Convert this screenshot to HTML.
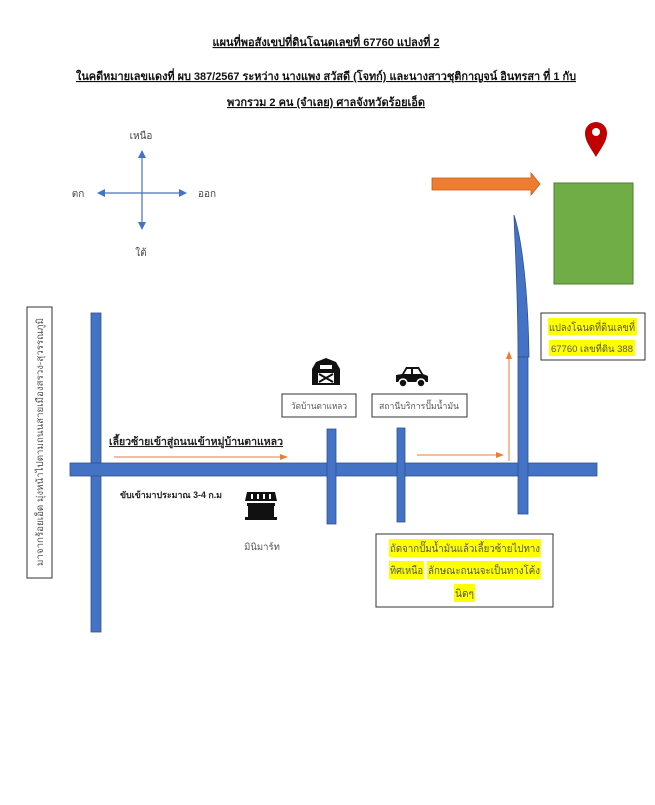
<!DOCTYPE html>
<html><head><meta charset="utf-8"><style>
body{margin:0;background:#fff;width:655px;height:800px;overflow:hidden}
svg text{font-family:"Liberation Sans","Noto Sans CJK SC",sans-serif}
</style></head><body>
<svg width="655" height="800" viewBox="0 0 655 800" xmlns="http://www.w3.org/2000/svg">
<defs>
<marker id="ab" markerWidth="8" markerHeight="8" refX="6" refY="4" orient="auto" markerUnits="userSpaceOnUse"><path d="M0,0 L8,4 L0,8 z" fill="#4472c4"/></marker>
<marker id="ao" markerWidth="8" markerHeight="8" refX="6" refY="4" orient="auto" markerUnits="userSpaceOnUse"><path d="M0,1 L8,4 L0,7 z" fill="#ed7d31"/></marker>
</defs>
<g style="font-family:'Liberation Serif','Noto Serif CJK SC',serif;font-weight:bold;font-size:11.2px;text-decoration:underline" fill="#111">
<text x="326" y="46" text-anchor="middle" textLength="227" lengthAdjust="spacingAndGlyphs">แผนที่พอสังเขปที่ดินโฉนดเลขที่ 67760 แปลงที่ 2</text>
<text x="326" y="80" text-anchor="middle" textLength="500" lengthAdjust="spacingAndGlyphs">ในคดีหมายเลขแดงที่ ผบ 387/2567 ระหว่าง นางแพง สวัสดี (โจทก์) และนางสาวชุติกาญจน์ อินทรสา ที่ 1 กับ</text>
<text x="326" y="106" text-anchor="middle" textLength="198" lengthAdjust="spacingAndGlyphs">พวกรวม 2 คน (จำเลย) ศาลจังหวัดร้อยเอ็ด</text>
</g>

<!-- compass -->
<line x1="142" y1="193" x2="142" y2="152" stroke="#4472c4" stroke-width="1.2" marker-end="url(#ab)"/>
<line x1="142" y1="193" x2="142" y2="228" stroke="#4472c4" stroke-width="1.2" marker-end="url(#ab)"/>
<line x1="142" y1="193" x2="99" y2="193" stroke="#4472c4" stroke-width="1.2" marker-end="url(#ab)"/>
<line x1="142" y1="193" x2="185" y2="193" stroke="#4472c4" stroke-width="1.2" marker-end="url(#ab)"/>
<g font-size="10" fill="#444">
<text x="141" y="139" text-anchor="middle">เหนือ</text>
<text x="78" y="197" text-anchor="middle">ตก</text>
<text x="207" y="197" text-anchor="middle">ออก</text>
<text x="141" y="256" text-anchor="middle">ใต้</text>
</g>

<!-- top right -->
<path d="M432,178 L531,178 L531,173 L540,184 L531,195 L531,190 L432,190 z" fill="#ed7d31" stroke="#c55a11" stroke-width="0.8"/>
<rect x="554" y="183" width="79" height="101" fill="#70ad47" stroke="#507e32" stroke-width="1"/>
<path d="M596,157 C590,147 585,141 585,133 A11,11 0 0 1 607,133 C607,141 602,147 596,157 z" fill="#c00000"/>
<circle cx="596" cy="132" r="4" fill="#fff"/>
<path d="M514,215 C522,240 528,290 529,357 L518,357 C518,290 515,250 514,215 z" fill="#4472c4" stroke="#2f528f" stroke-width="0.8"/>
<rect x="541" y="313" width="104" height="47" fill="#fff" stroke="#333" stroke-width="1"/>
<rect x="548" y="318" width="89" height="17" fill="#ffff00"/>
<rect x="549" y="340" width="86" height="16" fill="#ffff00"/>
<text x="592" y="331" text-anchor="middle" font-size="10.5" fill="#555" textLength="86" lengthAdjust="spacingAndGlyphs">แปลงโฉนดที่ดินเลขที่</text>
<text x="592" y="352" text-anchor="middle" font-size="9.5" fill="#555" textLength="82" lengthAdjust="spacingAndGlyphs">67760 เลขที่ดิน 388</text>

<!-- vertical label box -->
<rect x="27" y="307" width="25" height="271" fill="#fff" stroke="#333" stroke-width="1"/>
<text transform="translate(43,442) rotate(-90)" text-anchor="middle" font-size="9.5" fill="#555" textLength="248" lengthAdjust="spacingAndGlyphs">มาจากร้อยเอ็ด มุ่งหน้าไปตามถนนสายเมืองสรวง-สุวรรณภูมิ</text>

<!-- roads -->
<rect x="91" y="313" width="10" height="319" fill="#4472c4" stroke="#2f528f" stroke-width="0.8"/>
<rect x="70" y="463" width="527" height="13" fill="#4472c4" stroke="#2f528f" stroke-width="0.8"/>
<rect x="327" y="429" width="9" height="95" fill="#4472c4" stroke="#2f528f" stroke-width="0.8"/>
<rect x="397" y="428" width="8" height="94" fill="#4472c4" stroke="#2f528f" stroke-width="0.8"/>
<rect x="518" y="357" width="10" height="157" fill="#4472c4" stroke="#2f528f" stroke-width="0.8"/>

<!-- icons -->
<g transform="translate(326,373)">
<path d="M-14,12 L-14,-4 L-10,-11 L0,-15 L10,-11 L14,-4 L14,12 z" fill="#111"/>
<rect x="-6" y="-8" width="12" height="4" fill="#fff"/>
<rect x="-8" y="0" width="16" height="10" fill="#fff"/>
<path d="M-7,1 L7,9 M7,1 L-7,9" stroke="#111" stroke-width="2"/>
</g>
<g transform="translate(412,376)">
<path d="M-16,6 L-16,-1 L-10,-2 L-6,-9 L7,-9 L11,-2 L16,0 L16,6 z" fill="#111"/>
<path d="M-5,-7 L-1,-7 L-1,-2 L-8,-2 z M1,-7 L6,-7 L9,-2 L1,-2 z" fill="#fff"/>
<circle cx="-9" cy="7" r="4" fill="#111" stroke="#fff" stroke-width="1.5"/>
<circle cx="9" cy="7" r="4" fill="#111" stroke="#fff" stroke-width="1.5"/>
</g>
<g transform="translate(261,506)">
<path d="M-14,-14 L14,-14 L16,-5 L-16,-5 z" fill="#111"/>
<path d="M-9,-12 L-9,-7 M-3,-12 L-3,-7 M3,-12 L3,-7 M9,-12 L9,-7" stroke="#fff" stroke-width="2"/>
<rect x="-14" y="-3" width="28" height="3" fill="#111"/>
<rect x="-13" y="0" width="26" height="11" fill="#111"/>
<rect x="-16" y="11" width="32" height="3" fill="#111"/>
</g>

<!-- boxes -->
<rect x="282" y="394" width="74" height="23" fill="#fff" stroke="#333" stroke-width="1"/>
<text x="319" y="409" text-anchor="middle" font-size="9" fill="#555" textLength="56" lengthAdjust="spacingAndGlyphs">วัดบ้านตาแหลว</text>
<rect x="372" y="394" width="95" height="23" fill="#fff" stroke="#333" stroke-width="1"/>
<text x="419" y="409" text-anchor="middle" font-size="9" fill="#555" textLength="80" lengthAdjust="spacingAndGlyphs">สถานีบริการปั๊มน้ำมัน</text>

<text x="109" y="445" font-size="10.5" font-weight="bold" fill="#222" text-decoration="underline" textLength="174" lengthAdjust="spacingAndGlyphs">เลี้ยวซ้ายเข้าสู่ถนนเข้าหมู่บ้านตาแหลว</text>
<line x1="114" y1="457" x2="286" y2="457" stroke="#ed7d31" stroke-width="1" marker-end="url(#ao)"/>
<line x1="417" y1="455" x2="502" y2="455" stroke="#ed7d31" stroke-width="1" marker-end="url(#ao)"/>
<line x1="509" y1="461" x2="509" y2="353" stroke="#ed7d31" stroke-width="1" marker-end="url(#ao)"/>

<text x="120" y="498" font-size="9" font-weight="bold" fill="#222" textLength="102" lengthAdjust="spacingAndGlyphs">ขับเข้ามาประมาณ 3-4 ก.ม</text>
<text x="262" y="550" text-anchor="middle" font-size="9.5" fill="#555">มินิมาร์ท</text>

<rect x="376" y="534" width="177" height="73" fill="#fff" stroke="#333" stroke-width="1"/>
<rect x="389" y="539" width="152" height="18" fill="#ffff00"/>
<rect x="389" y="561" width="35" height="18" fill="#ffff00"/>
<rect x="427" y="561" width="114" height="18" fill="#ffff00"/>
<rect x="454" y="584" width="21" height="18" fill="#ffff00"/>
<g font-size="10.5" fill="#555">
<text x="390" y="552" textLength="150" lengthAdjust="spacingAndGlyphs">ถัดจากปั๊มน้ำมันแล้วเลี้ยวซ้ายไปทาง</text>
<text x="390" y="574" textLength="33" lengthAdjust="spacingAndGlyphs">ทิศเหนือ</text>
<text x="428" y="574" textLength="112" lengthAdjust="spacingAndGlyphs">ลักษณะถนนจะเป็นทางโค้ง</text>
<text x="455" y="597" textLength="19" lengthAdjust="spacingAndGlyphs">นิดๆ</text>
</g>
</svg>
</body></html>
